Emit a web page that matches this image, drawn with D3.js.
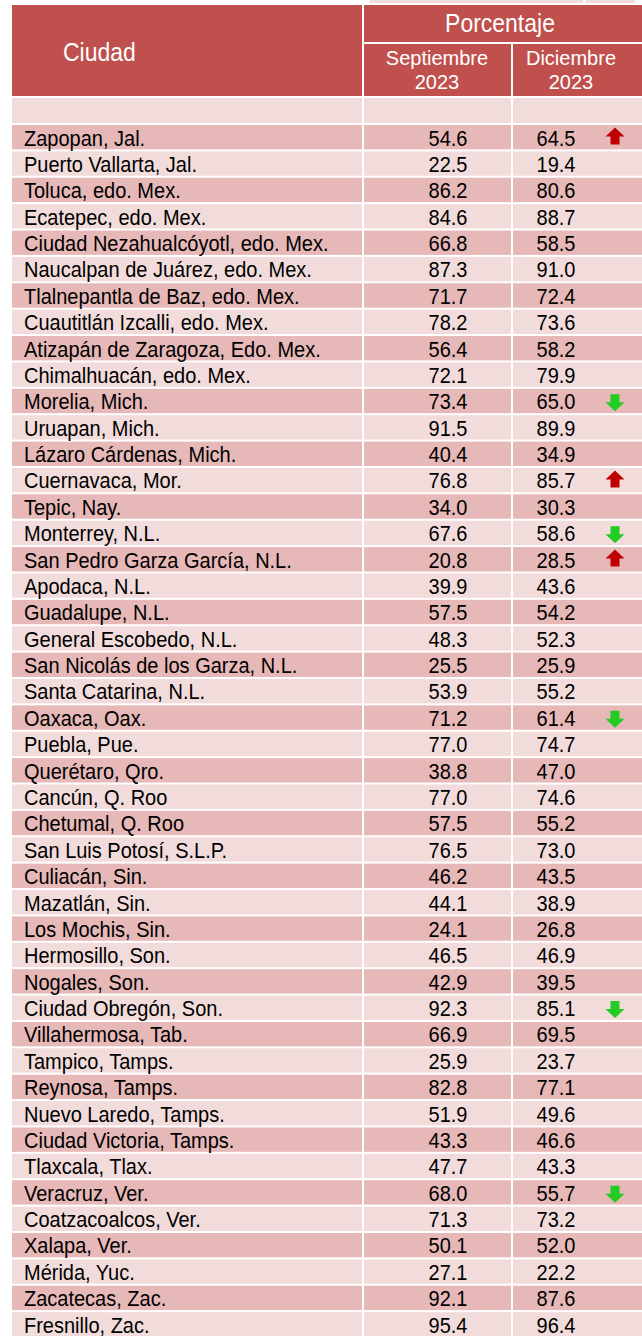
<!DOCTYPE html>
<html>
<head>
<meta charset="utf-8">
<script src="https://cdn.jsdelivr.net/npm/d3@7"></script>
<style>
  body { margin: 0; background: #fff; }
  svg { display: block; font-family: "Liberation Sans", Arial, sans-serif; }
</style>
</head>
<body>
<script>
var cities = ["Zapopan, Jal.", "Puerto Vallarta, Jal.", "Toluca, edo. Mex.", "Ecatepec, edo. Mex.",
  "Ciudad Nezahualcóyotl, edo. Mex.", "Naucalpan de Juárez, edo. Mex.", "Tlalnepantla de Baz, edo. Mex.",
  "Cuautitlán Izcalli, edo. Mex.", "Atizapán de Zaragoza, Edo. Mex.", "Chimalhuacán, edo. Mex.",
  "Morelia, Mich.", "Uruapan, Mich.", "Lázaro Cárdenas, Mich.", "Cuernavaca, Mor.", "Tepic, Nay.",
  "Monterrey, N.L.", "San Pedro Garza García, N.L.", "Apodaca, N.L.", "Guadalupe, N.L.",
  "General Escobedo, N.L.", "San Nicolás de los Garza, N.L.", "Santa Catarina, N.L.", "Oaxaca, Oax.",
  "Puebla, Pue.", "Querétaro, Qro.", "Cancún, Q. Roo", "Chetumal, Q. Roo", "San Luis Potosí, S.L.P.",
  "Culiacán, Sin.", "Mazatlán, Sin.", "Los Mochis, Sin.", "Hermosillo, Son.", "Nogales, Son.",
  "Ciudad Obregón, Son.", "Villahermosa, Tab.", "Tampico, Tamps.", "Reynosa, Tamps.",
  "Nuevo Laredo, Tamps.", "Ciudad Victoria, Tamps.", "Tlaxcala, Tlax.", "Veracruz, Ver.",
  "Coatzacoalcos, Ver.", "Xalapa, Ver.", "Mérida, Yuc.", "Zacatecas, Zac.", "Fresnillo, Zac."];

var sept2023 = [54.6, 22.5, 86.2, 84.6, 66.8, 87.3, 71.7, 78.2, 56.4, 72.1,
  73.4, 91.5, 40.4, 76.8, 34.0, 67.6, 20.8, 39.9, 57.5, 48.3,
  25.5, 53.9, 71.2, 77.0, 38.8, 77.0, 57.5, 76.5, 46.2, 44.1,
  24.1, 46.5, 42.9, 92.3, 66.9, 25.9, 82.8, 51.9, 43.3, 47.7,
  68.0, 71.3, 50.1, 27.1, 92.1, 95.4];

var dic2023 = [64.5, 19.4, 80.6, 88.7, 58.5, 91.0, 72.4, 73.6, 58.2, 79.9,
  65.0, 89.9, 34.9, 85.7, 30.3, 58.6, 28.5, 43.6, 54.2, 52.3,
  25.9, 55.2, 61.4, 74.7, 47.0, 74.6, 55.2, 73.0, 43.5, 38.9,
  26.8, 46.9, 39.5, 85.1, 69.5, 23.7, 77.1, 49.6, 46.6, 43.3,
  55.7, 73.2, 52.0, 22.2, 87.6, 96.4];

// significant change marker: 1 = up, -1 = down, 0 = none
var change = [1, 0, 0, 0, 0, 0, 0, 0, 0, 0,
  -1, 0, 0, 1, 0, -1, 1, 0, 0, 0,
  0, 0, -1, 0, 0, 0, 0, 0, 0, 0,
  0, 0, 0, -1, 0, 0, 0, 0, 0, 0,
  -1, 0, 0, 0, 0, 0];

var headCol = "#c0504d", dark = "#e6b8b7", light = "#f2dcdb";
var W = 642, H = 1336;

var svg = d3.select("body").append("svg").attr("width", W).attr("height", H);

// column edges
var xCity = 12, xSep = 364, xDic = 513, xEnd = 642;

// the source text is a bit taller than plain Arial, so stretch it vertically
function label(sel, x, yy, size, anchor, txt, col, stretch) {
  sel.append("text")
    .attr("transform", "translate(" + x + "," + yy + ") scale(1," + (stretch || 1.1) + ")")
    .attr("text-anchor", anchor).attr("fill", col)
    .style("font-size", size + "px").text(txt);
}

// fragments of the previous table at the very top
svg.append("rect").attr("x", 370).attr("y", 0).attr("width", 213).attr("height", 3).attr("fill", light);
svg.append("rect").attr("x", 586).attr("y", 0).attr("width", 49).attr("height", 3).attr("fill", light);

// header
var head = svg.append("g");
head.append("rect").attr("x", xCity).attr("y", 5).attr("width", 362 - xCity).attr("height", 91).attr("fill", headCol);
head.append("rect").attr("x", xSep).attr("y", 5).attr("width", xEnd - xSep).attr("height", 37).attr("fill", headCol);
head.append("rect").attr("x", xSep).attr("y", 44).attr("width", 511 - xSep).attr("height", 52).attr("fill", headCol);
head.append("rect").attr("x", xDic).attr("y", 44).attr("width", xEnd - xDic).attr("height", 52).attr("fill", headCol);

label(head, 63, 61, 23, "start", "Ciudad", "#fff");
label(head, 500, 32, 23, "middle", "Porcentaje", "#fff");
[["Septiembre", 437], ["Diciembre", 571]].forEach(function(h) {
  label(head, h[1], 65, 20, "middle", h[0], "#fff", 1);
  label(head, h[1], 88.5, 20, "middle", "2023", "#fff", 1);
});

// blank first row
[[xCity, 362], [xSep, 511], [xDic, xEnd]].forEach(function(c) {
  svg.append("rect").attr("x", c[0]).attr("y", 98).attr("width", c[1] - c[0]).attr("height", 25).attr("fill", light);
});

// data rows
var y = d3.scaleBand().domain(d3.range(cities.length)).range([125, 1336.5]).paddingInner(2 / 26.38).paddingOuter(0);

var rows = svg.selectAll("g.row").data(cities).enter().append("g").attr("class", "row")
  .attr("transform", function(d, i) { return "translate(0," + y(i) + ")"; });

[[xCity, 362], [xSep, 511], [xDic, xEnd]].forEach(function(c) {
  rows.append("rect").attr("x", c[0]).attr("width", c[1] - c[0]).attr("height", y.bandwidth())
    .attr("fill", function(d, i) { return i % 2 === 0 ? dark : light; });
});

rows.each(function(d, i) {
  var g = d3.select(this);
  label(g, 24, 20.5, 20, "start", d, "#000");
  label(g, 448, 20.5, 20, "middle", sept2023[i].toFixed(1), "#000");
  label(g, 556, 20.5, 20, "middle", dic2023[i].toFixed(1), "#000");
});

// arrows
var upArrow = "M0,-8.5L9.5,0.5L4.5,0.5L4.5,8.5L-4.5,8.5L-4.5,0.5L-9.5,0.5Z";
var downArrow = "M0,8.5L9.5,-0.5L4.5,-0.5L4.5,-8.5L-4.5,-8.5L-4.5,-0.5L-9.5,-0.5Z";
rows.filter(function(d, i) { return change[i] !== 0; })
  .append("path")
  .attr("d", function(d) { return change[cities.indexOf(d)] > 0 ? upArrow : downArrow; })
  .attr("transform", function(d) { return "translate(615," + (change[cities.indexOf(d)] > 0 ? 11 : 14) + ")"; })
  .attr("fill", function(d) { return change[cities.indexOf(d)] > 0 ? "#c00000" : "#22cc22"; });
</script>
</body>
</html>
